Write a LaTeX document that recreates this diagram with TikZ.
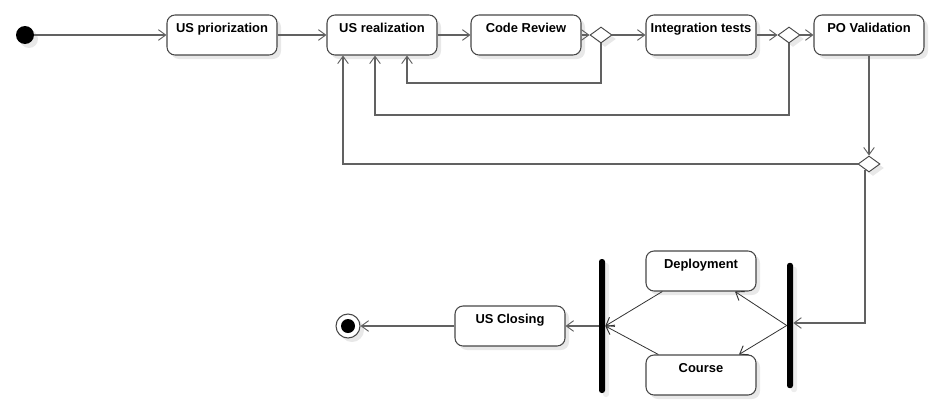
\documentclass[tikz,border=0pt]{standalone}
\usepackage{fontspec}
\setmainfont{Liberation Sans}
\usetikzlibrary{shapes.geometric,arrows.meta,positioning,shadows}

\begin{document}
\begin{tikzpicture}[x=0.75pt,y=-0.75pt,
        flow/.style={draw=black!62,line width=0.8pt,-{Straight Barb[length=5.5pt,width=8pt,line width=0.7pt]}},
        thinflow/.style={flow,draw=black!80,line width=0.6pt},
        activity/.style={draw=black!72,line width=0.8pt,rounded corners=6pt,fill=white,
            minimum width=82.5pt,minimum height=30pt,inner xsep=2pt,inner ysep=3pt,
            text height=9.75pt,text depth=14.25pt,font=\fontsize{9.7}{11}\selectfont\bfseries,
            drop shadow={shadow xshift=3pt,shadow yshift=-3pt,fill=black!9,opacity=1}},
        choice/.style={diamond,draw=black!72,line width=0.7pt,fill=white,inner sep=0pt,
            minimum width=16.5pt,minimum height=12pt,
            drop shadow={shadow xshift=3pt,shadow yshift=-3pt,fill=black!9,opacity=1}},
        bar/.style={fill=black,inner sep=0pt,minimum width=4.5pt,rounded corners=2pt,
            drop shadow={shadow xshift=3pt,shadow yshift=-3pt,fill=black!7,opacity=1}}]

                    \useasboundingbox (0,0) rectangle (938,418);

                    %%nodes
                    \node[circle,fill=black,minimum size=13.5pt,inner sep=0pt,
                        drop shadow={shadow xshift=3pt,shadow yshift=-3pt,fill=black!9,opacity=1}] (start) at (25,35) {};
                    \node[activity] (prio) at (222,35) {US priorization};
                    \node[activity] (real) at (382,35) {US realization};
                    \node[activity] (review) at (526,35) {Code Review};
                    \node[choice] (dec1) at (601,35) {};
                    \node[activity] (tests) at (701,35) {Integration tests};
                    \node[choice] (dec2) at (789,35) {};
                    \node[activity] (valid) at (869,35) {PO Validation};
                    \node[choice] (dec3) at (869,164) {};

                    \node[bar,minimum height=94pt] (fork) at (790,325.5) {};
                    \node[activity] (deploy) at (701,271) {Deployment};
                    \node[activity] (course) at (701,375) {Course};
                    \node[bar,minimum height=100.5pt] (join) at (602,326) {};
                    \node[activity] (closing) at (510,326) {US Closing};
                    \node[circle,draw=black!72,line width=0.8pt,fill=white,minimum size=18pt,inner sep=0pt,
                        path picture={\fill[black] (path picture bounding box.center) circle (5.25pt);},
                        drop shadow={shadow xshift=3pt,shadow yshift=-3pt,fill=black!9,opacity=1}] (finish) at (348,326) {};

                    %%loop corners
                    \coordinate (back1) at (407,83);
                    \coordinate (back2) at (375,115);
                    \coordinate (back3) at (343,164);
                    \coordinate (down) at (865,323);

                    %%main flow
                    \draw[flow] (start) -- (prio);
                    \draw[flow] (prio) -- (real);
                    \draw[flow] (real) -- (review);
                    \draw[flow] (review) -- (dec1);
                    \draw[flow] (dec1) -- (tests);
                    \draw[flow] (tests) -- (dec2);
                    \draw[flow] (dec2) -- (valid);
                    \draw[flow] (valid) -- (dec3);

                    %%back to realization
                    \draw[flow] (dec1.south) |- (back1) -- (back1 |- real.south);
                    \draw[flow] (dec2.south) |- (back2) -- (back2 |- real.south);
                    \draw[flow] (dec3.west) -- (back3) -- (back3 |- real.south);

                    %%release
                    \draw[flow] (down |- dec3.south) ++(0,-2) -- (down) -- (down -| fork.east);
                    \draw[thinflow] (fork.west) -- ([xshift=25.5pt]deploy.south);
                    \draw[thinflow] (fork.west) -- ([xshift=28.5pt]course.north);
                    \draw[thinflow] ([xshift=-29pt]deploy.south) -- (join.east);
                    \draw[thinflow] ([xshift=-32pt]course.north) -- (join.east);
                    \draw[flow] (join.west) -- (closing.east);
                    \draw[flow] (closing) -- (finish);

\end{tikzpicture}
\end{document}
